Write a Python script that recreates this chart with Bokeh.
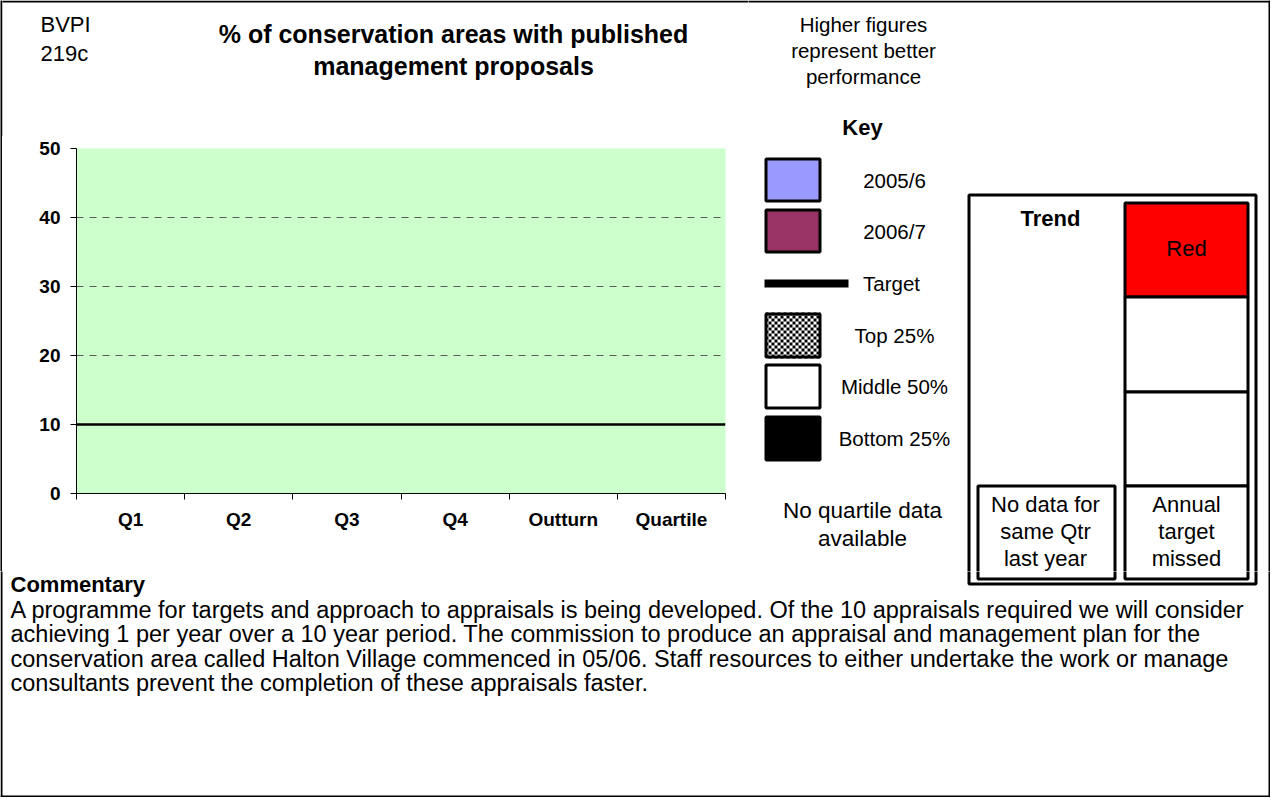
import numpy as np
from bokeh.plotting import figure
from bokeh.models import Range1d, FixedTicker
from bokeh.layouts import row, column
from bokeh.core.properties import value
from bokeh.embed import file_html
from bokeh.resources import INLINE

# ---------------- data ----------------
categories = ["Q1", "Q2", "Q3", "Q4", "Outturn", "Quartile"]
values_2005_6 = []          # no values reported
values_2006_7 = []          # no values reported
target = 10
y_ticks = [0, 10, 20, 30, 40, 50]
y_max = 50

legend_labels = ["2005/6", "2006/7", "Target", "Top 25%", "Middle 50%", "Bottom 25%"]
legend_fills = ["#9999FF", "#993366", "black", "checker", "white", "black"]

title_lines = ["% of conservation areas with published", "management proposals"]
id_lines = ["BVPI", "219c"]
note_lines = ["Higher figures", "represent better", "performance"]
quartile_note = ["No quartile data", "available"]
trend_left = ["No data for", "same Qtr", "last year"]
trend_right = ["Annual", "target", "missed"]
trend_status = "Red"
commentary = [
    "A programme for targets and approach to appraisals is being developed. Of the 10 appraisals required we will consider",
    "achieving 1 per year over a 10 year period. The commission to produce an appraisal and management plan for the",
    "conservation area called Halton Village commenced in 05/06.  Staff resources to either undertake the work or manage",
    "consultants prevent the completion of these appraisals faster.",
]

FONT = "Liberation Sans"
W, H = 1270, 797


def canvas(w, h, x0, x1, y0, y1):
    p = figure(width=w, height=h, x_range=Range1d(x0, x1), y_range=Range1d(y1, y0),
               output_backend="svg", toolbar_location=None,
               x_axis_location=None, y_axis_location=None,
               min_border=0, min_border_left=0, min_border_right=0,
               min_border_top=0, min_border_bottom=0,
               outline_line_color=None, background_fill_color="white",
               border_fill_color="white")
    p.grid.visible = False
    return p


def txt(p, x, y, s, size, bold=False, align="center"):
    p.text(x=[x], y=[y], text=[s], text_font=value(FONT),
           text_font_size=value(f"{size}px"),
           text_font_style="bold" if bold else "normal",
           text_align=align, text_baseline="middle", text_color="black")


def borders(p):
    p.quad(left=[0, W - 2, 0, 0], right=[2, W, W, W],
           top=[0, 0, 0, H - 2], bottom=[H, H, 2, H],
           fill_color="black", line_color=None)


def trend_shapes(p):
    p.quad(left=[968.5], right=[1255.5], top=[194.5], bottom=[583.5],
           fill_color=None, line_color="black", line_width=3)
    p.quad(left=[1124.5] * 4, right=[1247.5] * 4,
           top=[202.5, 296.5, 391.5, 485.5], bottom=[296.5, 391.5, 485.5, 578.5],
           fill_color=["#FF0000", "white", "white", "white"],
           line_color="black", line_width=3)
    p.quad(left=[977.5], right=[1114.5], top=[485.5], bottom=[578.5],
           fill_color="white", line_color="black", line_width=3)


# ---------------- left border strip ----------------
TOP_H = 571
strip = figure(width=2, height=TOP_H, output_backend="svg", toolbar_location=None,
               x_axis_location=None, y_axis_location=None,
               min_border=0, min_border_left=0, min_border_right=0,
               min_border_top=0, min_border_bottom=0,
               outline_line_color=None, background_fill_color="black",
               border_fill_color="black")
strip.grid.visible = False

# ---------------- header (above chart) ----------------
HEAD_H = 136
header = canvas(746, HEAD_H, 2, 748, 0, HEAD_H)
borders(header)
txt(header, 40, 24, id_lines[0], 22, align="left")
txt(header, 40, 53, id_lines[1], 22, align="left")
txt(header, 453, 33, title_lines[0], 25, bold=True)
txt(header, 453, 65, title_lines[1], 25, bold=True)

# ---------------- chart ----------------
n = len(categories)
chart = figure(width=746, height=TOP_H - HEAD_H, x_range=Range1d(0, n), y_range=Range1d(0, y_max),
               output_backend="svg", toolbar_location=None,
               min_border_left=74, min_border_right=23, min_border_top=148 - HEAD_H,
               min_border_bottom=TOP_H - 493,
               background_fill_color="#CCFFCC", border_fill_color="white",
               outline_line_color=None)
chart.xgrid.visible = False
chart.ygrid.grid_line_color = "#5a5a5a"
chart.ygrid.grid_line_dash = "7 6"
chart.ygrid.grid_line_width = 1

chart.yaxis.ticker = FixedTicker(ticks=y_ticks)
chart.yaxis.axis_line_color = "black"
chart.yaxis.major_tick_out = 6
chart.yaxis.major_tick_in = 0
chart.yaxis.minor_tick_out = 0
chart.yaxis.minor_tick_in = 0
chart.yaxis.major_label_standoff = 10
chart.yaxis.major_label_text_font = FONT
chart.yaxis.major_label_text_font_size = "19px"
chart.yaxis.major_label_text_font_style = "bold"
chart.yaxis.major_label_text_color = "black"

centers = [i + 0.5 for i in range(n)]
chart.xaxis.ticker = FixedTicker(ticks=centers, minor_ticks=list(range(n + 1)))
chart.xaxis.major_label_overrides = {c: lab for c, lab in zip(centers, categories)}
chart.xaxis.axis_line_color = "black"
chart.xaxis.major_tick_out = 0
chart.xaxis.major_tick_in = 0
chart.xaxis.minor_tick_out = 6
chart.xaxis.minor_tick_in = 0
chart.xaxis.minor_tick_line_color = "black"
chart.xaxis.major_label_standoff = 9
chart.xaxis.major_label_text_font = FONT
chart.xaxis.major_label_text_font_size = "19px"
chart.xaxis.major_label_text_font_style = "bold"
chart.xaxis.major_label_text_color = "black"

chart.line(x=[0, n], y=[target, target], line_color="black", line_width=2.5)

# ---------------- side panel (note, key, trend) ----------------
side = canvas(W - 748, TOP_H, 748, W, 0, TOP_H)
borders(side)
for i, s in enumerate(note_lines):
    txt(side, 863, 24 + 26 * i, s, 20.5)
txt(side, 862, 127, "Key", 22, bold=True)

sw_tops = [157, 208, 312, 363, 415]
sw_bots = [202, 253, 358, 409, 461]
sw_labels = [legend_labels[0], legend_labels[1], legend_labels[3], legend_labels[4], legend_labels[5]]
sw_fills = [legend_fills[0], legend_fills[1], legend_fills[3], legend_fills[4], legend_fills[5]]
for t, b, lab, f in zip(sw_tops, sw_bots, sw_labels, sw_fills):
    if f == "checker":
        side.quad(left=[765], right=[820], top=[t], bottom=[b], fill_color="white", line_color=None)
        cs = 3
        xs = np.arange(765, 820, cs)
        ys = np.arange(t, b, cs)
        L, T, R, B = [], [], [], []
        for iy, yy in enumerate(ys):
            for ix, xx in enumerate(xs):
                if (ix + iy) % 2 == 0:
                    L.append(xx); R.append(min(xx + cs, 820)); T.append(yy); B.append(min(yy + cs, b))
        side.quad(left=L, right=R, top=T, bottom=B, fill_color="black", line_color=None)
        side.quad(left=[765.5], right=[819.5], top=[t + 1.5], bottom=[b - 1.5],
                  fill_color=None, line_color="black", line_width=3)
    else:
        side.quad(left=[765.5], right=[819.5], top=[t + 1.5], bottom=[b - 1.5],
                  fill_color=f, line_color="black", line_width=3)
    txt(side, 894, (t + b) / 2, lab, 20.5)

side.quad(left=[764], right=[848], top=[279], bottom=[287], fill_color="black", line_color=None)
txt(side, 891, 283, legend_labels[2], 20.5)

txt(side, 862, 510, quartile_note[0], 22.5)
txt(side, 862, 538, quartile_note[1], 22.5)

trend_shapes(side)
txt(side, 1050, 218, "Trend", 22, bold=True)
txt(side, 1186, 248, trend_status, 22)
for i, (a, b) in enumerate(zip(trend_left, trend_right)):
    txt(side, 1045, 504 + 27 * i, a, 22)
    txt(side, 1186, 504 + 27 * i, b, 22)

# ---------------- commentary ----------------
comm = canvas(W, H - TOP_H, 0, W, TOP_H, H)
borders(comm)
trend_shapes(comm)
txt(comm, 10, 584, "Commentary", 22, bold=True, align="left")
for i, s in enumerate(commentary):
    txt(comm, 10, 609 + 24.5 * i, s, 23.5, align="left")

layout = column(
    row(column(strip), column(column(header), column(chart)), column(side)),
    column(comm),
)

open("out.html", "w").write(file_html(layout, INLINE))
